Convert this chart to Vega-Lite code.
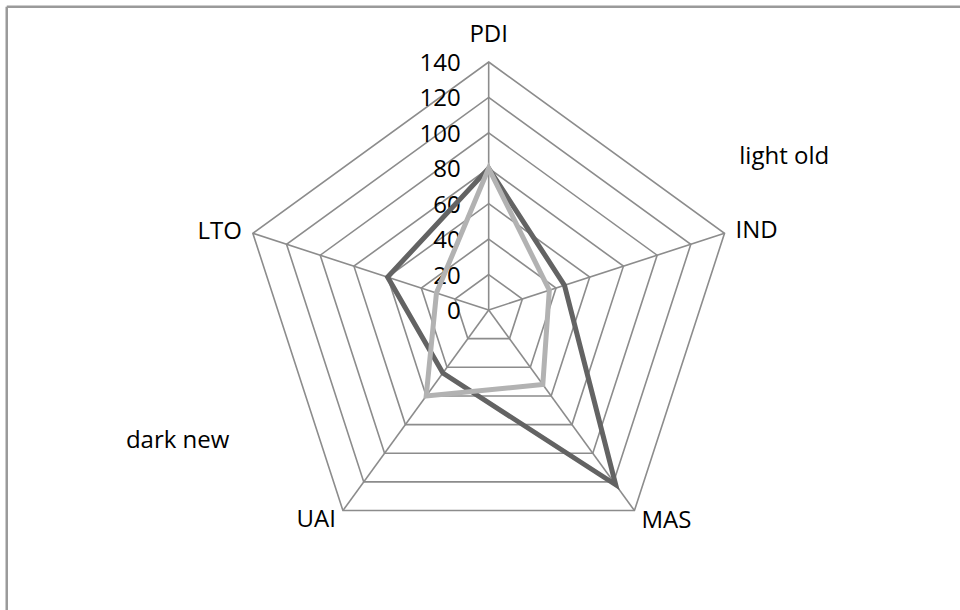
{
  "$schema": "https://vega.github.io/schema/vega-lite/v6.json",
  "width": 960,
  "height": 610,
  "padding": 0,
  "autosize": {"type": "none"},
  "background": "white",
  "config": {
    "view": {"stroke": null},
    "text": {"font": "Open Sans", "fontSize": 24, "color": "#000000"}
  },
  "datasets": {
    "scores": [
      {"series": "dark new", "axis": "PDI", "i": 0, "value": 80},
      {"series": "dark new", "axis": "IND", "i": 1, "value": 45},
      {"series": "dark new", "axis": "MAS", "i": 2, "value": 122},
      {"series": "dark new", "axis": "UAI", "i": 3, "value": 44},
      {"series": "dark new", "axis": "LTO", "i": 4, "value": 60},
      {"series": "light old", "axis": "PDI", "i": 0, "value": 80},
      {"series": "light old", "axis": "IND", "i": 1, "value": 36},
      {"series": "light old", "axis": "MAS", "i": 2, "value": 52},
      {"series": "light old", "axis": "UAI", "i": 3, "value": 60},
      {"series": "light old", "axis": "LTO", "i": 4, "value": 31}
    ],
    "axes": [
      {"axis": "PDI", "i": 0},
      {"axis": "IND", "i": 1},
      {"axis": "MAS", "i": 2},
      {"axis": "UAI", "i": 3},
      {"axis": "LTO", "i": 4}
    ],
    "rings": [
      {"ring": 0}, {"ring": 20}, {"ring": 40}, {"ring": 60},
      {"ring": 80}, {"ring": 100}, {"ring": 120}, {"ring": 140}
    ]
  },
  "layer": [
    {
      "description": "chart area frame (left and top edges)",
      "data": {"values": [{}]},
      "mark": {"type": "rule", "color": "#9a9a9a", "strokeWidth": 2.5},
      "encoding": {
        "x": {"datum": -272.1, "type": "quantitative", "axis": null,
              "scale": {"domain": [-275.9, 266.1], "nice": false, "zero": false}},
        "y": {"datum": 171.2, "type": "quantitative", "axis": null,
              "scale": {"domain": [-169.4, 175.0], "nice": false, "zero": false}},
        "y2": {"datum": -169.4}
      }
    },
    {
      "data": {"values": [{}]},
      "mark": {"type": "rule", "color": "#9a9a9a", "strokeWidth": 2.5},
      "encoding": {
        "x": {"datum": -272.1, "type": "quantitative"},
        "x2": {"datum": 266.1},
        "y": {"datum": 171.2, "type": "quantitative"}
      }
    },
    {
      "description": "pentagon grid rings every 20",
      "data": {"name": "rings"},
      "transform": [
        {"filter": "datum.ring > 0"},
        {"calculate": "[0, 1, 2, 3, 4]", "as": "i"},
        {"flatten": ["i"]},
        {"calculate": "datum.ring * sin(datum.i * 2 * PI / 5)", "as": "px"},
        {"calculate": "datum.ring * cos(datum.i * 2 * PI / 5)", "as": "py"}
      ],
      "mark": {"type": "line", "interpolate": "linear-closed", "color": "#8c8c8c", "strokeWidth": 1.6},
      "encoding": {
        "x": {"field": "px", "type": "quantitative"},
        "y": {"field": "py", "type": "quantitative"},
        "detail": {"field": "ring", "type": "nominal"},
        "order": {"field": "i", "type": "quantitative"}
      }
    },
    {
      "description": "spokes",
      "data": {"name": "axes"},
      "transform": [
        {"calculate": "140 * sin(datum.i * 2 * PI / 5)", "as": "px"},
        {"calculate": "140 * cos(datum.i * 2 * PI / 5)", "as": "py"}
      ],
      "mark": {"type": "rule", "color": "#8c8c8c", "strokeWidth": 1.6},
      "encoding": {
        "x": {"field": "px", "type": "quantitative"},
        "y": {"field": "py", "type": "quantitative"},
        "x2": {"datum": 0}, "y2": {"datum": 0}
      }
    },
    {
      "description": "radial scale labels along the PDI spoke",
      "data": {"name": "rings"},
      "transform": [
        {"calculate": "0", "as": "px"},
        {"calculate": "datum.ring", "as": "py"}
      ],
      "mark": {"type": "text", "align": "right", "baseline": "alphabetic", "dx": -28, "dy": 9},
      "encoding": {
        "x": {"field": "px", "type": "quantitative"},
        "y": {"field": "py", "type": "quantitative"},
        "text": {"field": "ring", "type": "quantitative"}
      }
    },
    {
      "description": "the two series",
      "data": {"name": "scores"},
      "transform": [
        {"calculate": "datum.value * sin(datum.i * 2 * PI / 5)", "as": "px"},
        {"calculate": "datum.value * cos(datum.i * 2 * PI / 5)", "as": "py"}
      ],
      "mark": {"type": "line", "interpolate": "linear-closed", "strokeWidth": 5, "strokeJoin": "miter"},
      "encoding": {
        "x": {"field": "px", "type": "quantitative"},
        "y": {"field": "py", "type": "quantitative"},
        "color": {"field": "series", "type": "nominal", "legend": null,
                  "scale": {"domain": ["dark new", "light old"], "range": ["#636363", "#b2b2b2"]}},
        "detail": {"field": "series", "type": "nominal"},
        "order": {"field": "i", "type": "quantitative"}
      }
    },
    {
      "data": {"name": "axes"},
      "transform": [
        {"filter": "datum.axis === 'PDI'"},
        {"calculate": "140 * sin(datum.i * 2 * PI / 5)", "as": "px"},
        {"calculate": "140 * cos(datum.i * 2 * PI / 5)", "as": "py"}
      ],
      "mark": {"type": "text", "align": "center", "baseline": "alphabetic", "dy": -20},
      "encoding": {
        "x": {"field": "px", "type": "quantitative"},
        "y": {"field": "py", "type": "quantitative"},
        "text": {"field": "axis", "type": "nominal"}
      }
    },
    {
      "data": {"name": "axes"},
      "transform": [
        {"filter": "datum.axis === 'IND'"},
        {"calculate": "140 * sin(datum.i * 2 * PI / 5)", "as": "px"},
        {"calculate": "140 * cos(datum.i * 2 * PI / 5)", "as": "py"}
      ],
      "mark": {"type": "text", "align": "left", "baseline": "alphabetic", "dx": 11, "dy": 5},
      "encoding": {
        "x": {"field": "px", "type": "quantitative"},
        "y": {"field": "py", "type": "quantitative"},
        "text": {"field": "axis", "type": "nominal"}
      }
    },
    {
      "data": {"name": "axes"},
      "transform": [
        {"filter": "datum.axis === 'MAS'"},
        {"calculate": "140 * sin(datum.i * 2 * PI / 5)", "as": "px"},
        {"calculate": "140 * cos(datum.i * 2 * PI / 5)", "as": "py"}
      ],
      "mark": {"type": "text", "align": "left", "baseline": "alphabetic", "dx": 7, "dy": 17},
      "encoding": {
        "x": {"field": "px", "type": "quantitative"},
        "y": {"field": "py", "type": "quantitative"},
        "text": {"field": "axis", "type": "nominal"}
      }
    },
    {
      "data": {"name": "axes"},
      "transform": [
        {"filter": "datum.axis === 'UAI'"},
        {"calculate": "140 * sin(datum.i * 2 * PI / 5)", "as": "px"},
        {"calculate": "140 * cos(datum.i * 2 * PI / 5)", "as": "py"}
      ],
      "mark": {"type": "text", "align": "right", "baseline": "alphabetic", "dx": -7, "dy": 16},
      "encoding": {
        "x": {"field": "px", "type": "quantitative"},
        "y": {"field": "py", "type": "quantitative"},
        "text": {"field": "axis", "type": "nominal"}
      }
    },
    {
      "data": {"name": "axes"},
      "transform": [
        {"filter": "datum.axis === 'LTO'"},
        {"calculate": "140 * sin(datum.i * 2 * PI / 5)", "as": "px"},
        {"calculate": "140 * cos(datum.i * 2 * PI / 5)", "as": "py"}
      ],
      "mark": {"type": "text", "align": "right", "baseline": "alphabetic", "dx": -11, "dy": 6},
      "encoding": {
        "x": {"field": "px", "type": "quantitative"},
        "y": {"field": "py", "type": "quantitative"},
        "text": {"field": "axis", "type": "nominal"}
      }
    },
    {
      "description": "series names",
      "data": {"values": [{"name": "light old"}]},
      "mark": {"type": "text", "align": "left", "baseline": "alphabetic"},
      "encoding": {
        "x": {"datum": 141.5, "type": "quantitative"},
        "y": {"datum": 82.3, "type": "quantitative"},
        "text": {"field": "name", "type": "nominal"}
      }
    },
    {
      "data": {"values": [{"name": "dark new"}]},
      "mark": {"type": "text", "align": "left", "baseline": "alphabetic"},
      "encoding": {
        "x": {"datum": -204.8, "type": "quantitative"},
        "y": {"datum": -77.7, "type": "quantitative"},
        "text": {"field": "name", "type": "nominal"}
      }
    }
  ]
}
